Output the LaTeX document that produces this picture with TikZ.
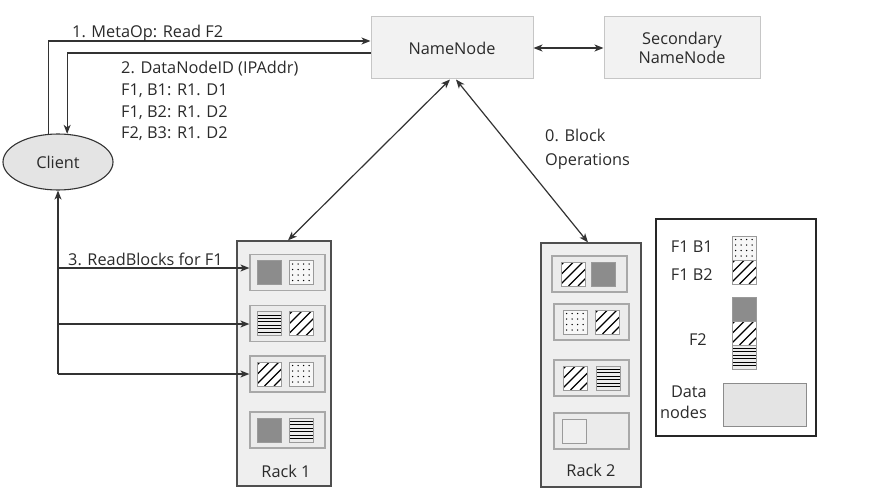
\documentclass[tikz,border=0pt]{standalone}
\usepackage{fontspec}
\setmainfont{Open Sans}
\usetikzlibrary{arrows.meta,shapes.geometric}
\definecolor{linec}{HTML}{333333}
\definecolor{txtc}{HTML}{2A2A2A}
\definecolor{boxfill}{HTML}{F2F2F2}
\definecolor{boxedge}{HTML}{C6C6C6}
\definecolor{rackfill}{HTML}{EFEFEF}
\definecolor{rackedge}{HTML}{4F4F4F}
\definecolor{dnfill}{HTML}{EBEBEB}
\definecolor{dnedge}{HTML}{A8A8A8}
\definecolor{blkdark}{HTML}{8C8C8C}
\definecolor{blkedge}{HTML}{9A9A9A}
\definecolor{clientfill}{HTML}{E4E4E4}
\newcommand\BlkDark[2]{\fill[blkdark,draw=blkedge,line width=1pt] (#1,#2) rectangle ++(24,24);}
\newcommand\BlkEmpty[2]{\fill[rackfill,draw=blkedge,line width=1pt] (#1,#2) rectangle ++(24,24);}
\newcommand\BlkHatch[2]{%
  \begin{scope}
    \clip (#1,#2) rectangle ++(24,24);
    \fill[white] (#1,#2) rectangle ++(24,24);
    \foreach \k in {3,12.5,...,50} \draw[line width=1.2pt,black] (#1-24+\k,#2+24) -- ++(24,-24);
  \end{scope}
  \draw[blkedge,line width=1pt] (#1,#2) rectangle ++(24,24);}
\newcommand\BlkDots[2]{%
  \fill[white!97!black,draw=blkedge,line width=1pt] (#1,#2) rectangle ++(24,24);
  \foreach \i in {0,...,3} \foreach \j in {0,...,3} \fill[black] (#1+3.5+\i*5.5,#2+3.5+\j*5.5) circle (0.75);}
\newcommand\BlkLines[2]{%
  \fill[white!92!black] (#1,#2) rectangle ++(24,24);
  \foreach \j in {1,...,6} \draw[line width=0.9pt,black] (#1,#2+\j*3.45) -- ++(24,0);
  \draw[blkedge,line width=1pt] (#1,#2) rectangle ++(24,24);}
\tikzset{
  every node/.style={font=\fontsize{16.3}{20}\selectfont, text=txtc},
  nbox/.style={draw=boxedge, fill=boxfill, line width=1pt, inner sep=0pt},
  rack/.style={draw=rackedge, fill=rackfill, line width=1.2pt, inner sep=0pt},
  dnode/.style={draw=dnedge, fill=dnfill, line width=1.2pt, inner sep=0pt, minimum width=75, minimum height=36},
  arr/.style={-{Stealth[length=9pt,width=7pt,inset=2.5pt]}, line width=1.2pt, draw=linec},
  darr/.style={{Stealth[length=9pt,width=7pt,inset=2.5pt]}-{Stealth[length=9pt,width=7pt,inset=2.5pt]}, line width=1.2pt, draw=linec},
  lbl/.style={anchor=base west, inner sep=0pt},
}
\begin{document}
\begin{tikzpicture}[x=1pt,y=-1pt]
\useasboundingbox (0,0) rectangle (871,503);
% top nodes
\node[nbox, minimum width=162, minimum height=62] (nn) at (452,48) {NameNode};
\node[nbox, minimum width=156, minimum height=62, align=center] (snn) at (682,48) {Secondary\\[-1pt]NameNode};
\node[draw=linec, fill=clientfill, line width=1.1pt, ellipse, minimum width=110, minimum height=56, inner sep=0pt] (client) at (58,162) {Client};
% racks
\node[rack, minimum width=94, minimum height=245] (rack1) at (284,363.5) {};
\node[rack, minimum width=100, minimum height=244] (rack2) at (591,365) {};
\node[anchor=base, inner sep=0pt] (r1lbl) at (286,477) {Rack 1};
\node[anchor=base, inner sep=0pt] (r2lbl) at (591,476) {Rack 2};
% rack 1 data nodes
\node[dnode] (r1a) at (287.5,272.5) {};
\node[dnode] (r1b) at (287.5,323.5) {};
\node[dnode] (r1c) at (287.5,374) {};
\node[dnode] (r1d) at (287.5,430) {};
\BlkDark{257}{260.5}\BlkDots{289}{260.5}
\BlkLines{257}{311.5}\BlkHatch{289}{311.5}
\BlkHatch{257}{362}\BlkDots{289}{362}
\BlkDark{257}{418}\BlkLines{289}{418}
% rack 2 data nodes
\node[dnode] (r2a) at (589.5,274) {};
\node[dnode] (r2b) at (591.5,322) {};
\node[dnode] (r2c) at (591.5,378) {};
\node[dnode] (r2d) at (591.5,431) {};
\BlkHatch{561}{262}\BlkDark{591}{262}
\BlkDots{563}{310}\BlkHatch{595}{310}
\BlkHatch{563}{366}\BlkLines{596}{366}
\BlkEmpty{562}{419}
% legend
\node[draw=black!85, line width=2pt, minimum width=160, minimum height=217, inner sep=0pt] (legend) at (736,327.5) {};
\BlkDots{732}{236}\BlkHatch{732}{260}
\BlkDark{732}{297}\BlkHatch{732}{321}\BlkLines{732}{345}
\node[anchor=base east, inner sep=0pt] (lf1b1) at (713,252) {F1 B1};
\node[anchor=base east, inner sep=0pt] (lf1b2) at (713,280) {F1 B2};
\node[anchor=base east, inner sep=0pt] (lf2) at (707,345) {F2};
\node[draw=black!45, fill=clientfill, line width=1pt, minimum width=83, minimum height=43, inner sep=0pt] (ldn) at (764.5,404.5) {};
\node[anchor=base east, inner sep=0pt] (ldata) at (707,397) {Data};
\node[anchor=base east, inner sep=0pt] (lnodes) at (707,418) {nodes};
% connectors
\draw[darr] (nn.east) -- (snn.west);
\draw[arr] (client.108) |- ([yshift=7pt]nn.west);
\draw[arr] ([yshift=-5pt]nn.west) -| (client.72);
\draw[darr] ([xshift=-2pt]nn.south) -- ([xshift=4pt]rack1.north);
\draw[darr] ([xshift=4pt]nn.south) -- ([xshift=-3pt]rack2.north);
\coordinate (a1) at ([yshift=4.5pt]r1a.west);
\coordinate (a2) at ([yshift=-0.5pt]r1b.west);
\coordinate (j1) at (client.south |- a1);
\coordinate (j2) at (client.south |- a2);
\coordinate (j3) at (client.south |- r1c.west);
\draw[arr] (j3) -- (client.south);
\draw[arr] (j1) -- (a1);
\draw[arr] (j2) -- (a2);
\draw[arr] (j3) -- (r1c.west);
% labels
\node[lbl] (t1) at (72,38) {1. MetaOp: Read F2};
\node[lbl] (t2a) at (121,74) {2. DataNodeID (IPAddr)};
\node[lbl] (t2b) at (121,95.7) {F1, B1: R1. D1};
\node[lbl] (t2c) at (121,117.3) {F1, B2: R1. D2};
\node[lbl] (t2d) at (121,139) {F2, B3: R1. D2};
\node[lbl] (t3) at (68,265) {3. ReadBlocks for F1};
\node[lbl] (t0a) at (545,142) {0. Block};
\node[lbl] (t0b) at (545,165.5) {Operations};
\end{tikzpicture}
\end{document}
